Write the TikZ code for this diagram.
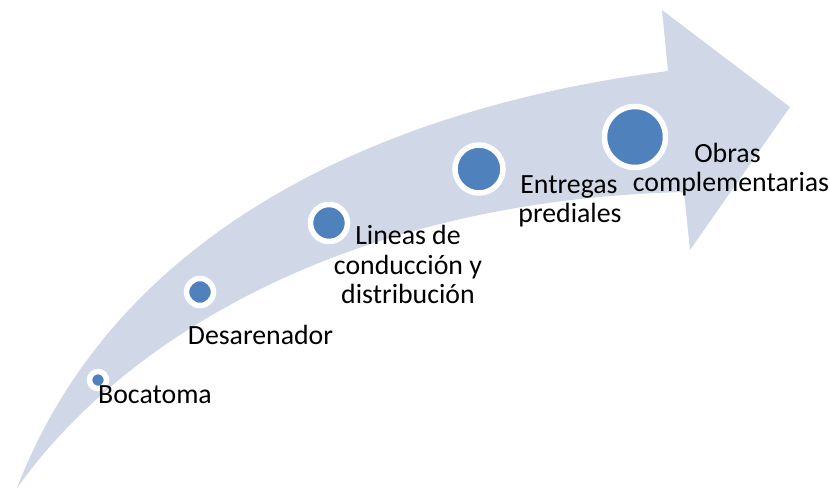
\documentclass[tikz,border=0pt]{standalone}
\usepackage{fontspec}
\setmainfont{Carlito}
\definecolor{band}{HTML}{D0D8E8}
\definecolor{dot}{HTML}{4F81BD}
\tikzset{
  stepdot/.style={circle, fill=dot, draw=white, line width=5.5pt, inner sep=0pt},
  lbl/.style={anchor=base, inner sep=0pt, font=\fontsize{27.8}{29.5}\selectfont, text=black}
}
\begin{document}
\begin{tikzpicture}[x=1pt,y=-1pt]
\useasboundingbox (0,0) rectangle (830,488);
% curved arrow
\coordinate (tail) at (17,488);
\coordinate (uj) at (668,71);
\coordinate (htop) at (662,10);
\coordinate (tip) at (790,107);
\coordinate (hbot) at (690,250);
\coordinate (lj) at (684,192);
\fill[band] (tail) .. controls (120,220) and (400,105) .. (uj)
  -- (htop) -- (tip) -- (hbot) -- (lj)
  .. controls (360,200) and (130,330) .. (tail) -- cycle;
% circles
\node[stepdot, minimum size=17pt] (c1) at (98,380) {};
\node[stepdot, minimum size=27pt] (c2) at (200,292) {};
\node[stepdot, minimum size=37pt] (c3) at (329,223) {};
\node[stepdot, minimum size=48pt] (c4) at (479,169) {};
\node[stepdot, minimum size=61pt] (c5) at (635,137) {};
% labels
\node[lbl] (t1) at (155,403) {Bocatoma};
\node[lbl] (t2) at (260.5,344) {Desarenador};
\node[lbl] (t3a) at (408,244) {Lineas de};
\node[lbl] (t3b) at (408,274) {conducción y};
\node[lbl] (t3c) at (408,303) {distribución};
\node[lbl] (t4a) at (569,193) {Entregas};
\node[lbl] (t4b) at (570,222) {prediales};
\node[lbl] (t5a) at (727.5,162) {Obras};
\node[lbl] (t5b) at (731,191) {complementarias};
\end{tikzpicture}
\end{document}
